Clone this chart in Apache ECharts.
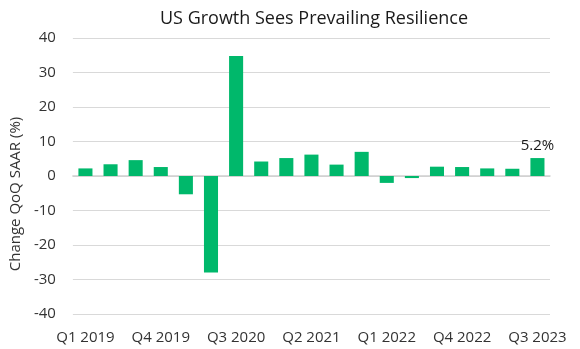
<!DOCTYPE html>
<html>
<head>
<meta charset="utf-8">
<script src="https://cdn.jsdelivr.net/npm/echarts@6/dist/echarts.min.js"></script>
<style>html,body{margin:0;padding:0;background:#fff}#c{width:580px;height:349px}</style>
</head>
<body>
<div id="c"></div>
<script>
const categories = ['Q1 2019','Q2 2019','Q3 2019','Q4 2019','Q1 2020','Q2 2020','Q3 2020','Q4 2020','Q1 2021','Q2 2021','Q3 2021','Q4 2021','Q1 2022','Q2 2022','Q3 2022','Q4 2022','Q1 2023','Q2 2023','Q3 2023'];
const growth = [2.2, 3.4, 4.6, 2.6, -5.3, -28.0, 34.8, 4.2, 5.2, 6.2, 3.3, 7.0, -2.0, -0.6, 2.7, 2.6, 2.2, 2.1, 5.2];
const yTicks = { min: -40, max: 40, interval: 10 };
const titleText = 'US Growth Sees Prevailing Resilience';
const yName = 'Change QoQ SAAR (%)';

const font = 'Open Sans';
const chart = echarts.init(document.getElementById('c'), null, { renderer: 'canvas' });
const lastIdx = growth.length - 1;
chart.setOption({
  animation: false,
  title: {
    text: titleText, left: 309, top: 5, textAlign: 'center',
    textStyle: { fontFamily: font, fontSize: 18, fontWeight: 'normal', color: '#1a1a1a' }
  },
  grid: { left: 70, right: 30, top: 38, bottom: 35 },
  xAxis: {
    type: 'category', data: categories,
    axisTick: { show: false },
    axisLine: { lineStyle: { color: '#d0d0d0', width: 1.5 } },
    axisLabel: { interval: 2, fontFamily: font, fontSize: 15, color: '#333', margin: 16 }
  },
  yAxis: {
    type: 'value', min: yTicks.min, max: yTicks.max, interval: yTicks.interval,
    name: yName, nameLocation: 'middle', nameGap: 42, nameRotate: 90,
    nameTextStyle: { fontFamily: font, fontSize: 15, color: '#333', padding: [0, 36, 0, 0] },
    axisLine: { show: false }, axisTick: { show: false },
    splitLine: { lineStyle: { color: '#d9d9d9', width: 1 } },
    axisLabel: { fontFamily: font, fontSize: 15, color: '#333', margin: 17 }
  },
  series: [{
    type: 'bar',
    data: growth.map((v, i) => i === lastIdx ? {
      value: v,
      label: { show: true, position: 'top', formatter: '{c}%', fontFamily: font, fontSize: 15, color: '#1a1a1a' }
    } : v),
    barCategoryGap: '44%',
    itemStyle: { color: '#00B86B' }
  }]
});
</script>
</body>
</html>
